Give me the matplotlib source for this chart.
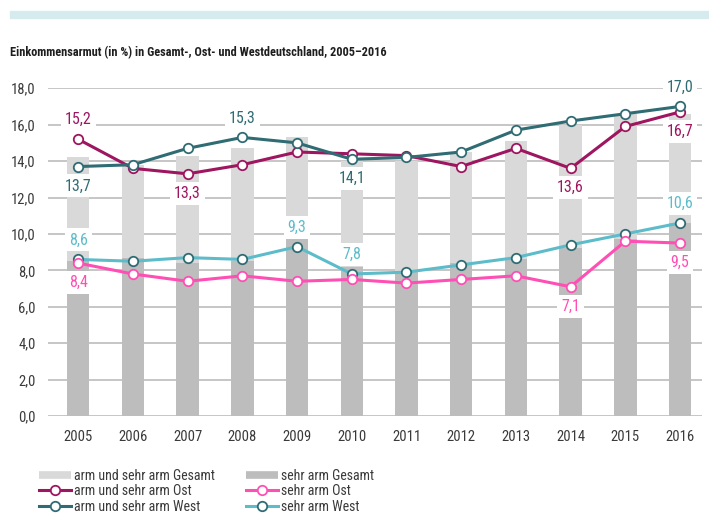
import matplotlib
matplotlib.use("Agg")
import matplotlib.pyplot as plt
from matplotlib import font_manager
from matplotlib.lines import Line2D
from matplotlib.patches import Rectangle
import numpy as np

# --- data ------------------------------------------------------------------
years = [2005, 2006, 2007, 2008, 2009, 2010, 2011, 2012, 2013, 2014, 2015, 2016]
gesamt_arm = [14.2, 13.8, 14.3, 14.7, 15.3, 14.0, 14.0, 14.5, 15.1, 16.0, 16.6, 16.6]
gesamt_sehr = [8.5, 8.7, 8.4, 8.5, 9.8, 8.2, 7.9, 8.4, 8.6, 9.2, 9.7, 10.6]
ost_arm = [15.2, 13.6, 13.3, 13.8, 14.5, 14.4, 14.3, 13.7, 14.7, 13.6, 15.9, 16.7]
west_arm = [13.7, 13.8, 14.7, 15.3, 15.0, 14.1, 14.2, 14.5, 15.7, 16.2, 16.6, 17.0]
ost_sehr = [8.4, 7.8, 7.4, 7.7, 7.4, 7.5, 7.3, 7.5, 7.7, 7.1, 9.6, 9.5]
west_sehr = [8.6, 8.5, 8.7, 8.6, 9.3, 7.8, 7.9, 8.3, 8.7, 9.4, 10.0, 10.6]

y_ticks = [0, 2, 4, 6, 8, 10, 12, 14, 16, 18]

# which points carry a value label: (series key, year index, +1 above / -1 below)
labelled = [
    ("ost_arm", 0, 1), ("ost_arm", 2, -1), ("ost_arm", 9, -1), ("ost_arm", 11, -1),
    ("west_arm", 0, -1), ("west_arm", 3, 1), ("west_arm", 5, -1), ("west_arm", 11, 1),
    ("west_sehr", 0, 1), ("west_sehr", 4, 1), ("west_sehr", 5, 1), ("west_sehr", 11, 1),
    ("ost_sehr", 0, -1), ("ost_sehr", 9, -1), ("ost_sehr", 11, -1),
]

TITLE = "Einkommensarmut (in %) in Gesamt-, Ost- und Westdeutschland, 2005\u20132016"

C_LIGHT = "#d9d9d9"
C_DARK = "#bdbdbd"
C_OST = "#9e1560"
C_WEST = "#2f6c73"
C_OST_S = "#ff4fb4"
C_WEST_S = "#5dbcca"
C_GRID = "#bcbcbc"
C_TEXT = "#3a3a3a"


def pick_font() -> list[str]:
    names = {f.name for f in font_manager.fontManager.ttflist}
    for cand in ["Liberation Sans Narrow", "Roboto Condensed", "Open Sans Condensed"]:
        if cand in names:
            return [cand, "DejaVu Sans"]
    return ["DejaVu Sans"]


plt.rcParams["font.family"] = pick_font()
plt.rcParams["font.stretch"] = "condensed"

series = {
    "ost_arm": (ost_arm, C_OST, C_OST, "arm und sehr arm Ost"),
    "west_arm": (west_arm, C_WEST, C_WEST, "arm und sehr arm West"),
    "ost_sehr": (ost_sehr, C_OST_S, C_OST_S, "sehr arm Ost"),
    "west_sehr": (west_sehr, C_WEST_S, C_WEST, "sehr arm West"),
}

LW = 2.2
MS = 6.8
MEW = 1.3

fig = plt.figure(figsize=(7.09, 5.13), dpi=100)
ax = fig.add_axes([0.068, 0.189, 0.922, 0.639])

x = np.arange(len(years))

# grid lines behind the bars
for v in y_ticks:
    ax.axhline(v, color=C_GRID, linewidth=1.2, zorder=0)

ax.bar(x, gesamt_arm, width=0.41, color=C_LIGHT, zorder=1)
ax.bar(x, gesamt_sehr, width=0.41, color=C_DARK, zorder=1.1)

for key in ["west_sehr", "ost_sehr", "ost_arm", "west_arm"]:
    vals, col, edge, _ = series[key]
    ax.plot(x, vals, color=col, linewidth=LW, zorder=4,
            marker="o", markersize=MS, markerfacecolor="white",
            markeredgecolor=edge, markeredgewidth=MEW)

for key, i, side in labelled:
    vals, col, _, _ = series[key]
    txt = f"{vals[i]:.1f}".replace(".", ",")
    ax.annotate(txt, (x[i], vals[i]), xytext=(0, 14 * side), textcoords="offset points",
                ha="center", va="center", fontsize=11.5, color=col, zorder=3,
                bbox=dict(boxstyle="square,pad=0.25", fc="white", ec="none"))

ax.set_xlim(-0.548, 11.40)
ax.set_ylim(0, 18)
ax.set_xticks(x)
ax.set_xticklabels([str(y) for y in years])
ax.set_yticks(y_ticks)
ax.set_yticklabels([f"{v:.1f}".replace(".", ",") for v in y_ticks])
ax.tick_params(axis="both", length=0, labelsize=10.5, colors=C_TEXT)
ax.tick_params(axis="x", pad=10)
ax.tick_params(axis="y", pad=9)
for s in ax.spines.values():
    s.set_visible(False)

# decorative band and title
fig.patches.append(Rectangle((10 / 709, 1 - 18 / 513), 1, 7 / 513,
                             transform=fig.transFigure, color="#d6ebee", zorder=0))
fig.text(10 / 709, 1 - 53 / 513, TITLE, fontsize=8.8, fontweight="bold",
         color="#1e1e1e", va="center", ha="left")


def line_handle(col, edge):
    return Line2D([], [], color=col, lw=LW, marker="o", ms=MS, mfc="white", mec=edge, mew=MEW)


handles = [
    Line2D([], [], color=C_LIGHT, lw=5.5, solid_capstyle="butt"),
    line_handle(C_OST, C_OST),
    line_handle(C_WEST, C_WEST),
    Line2D([], [], color=C_DARK, lw=5.5, solid_capstyle="butt"),
    line_handle(C_OST_S, C_OST_S),
    line_handle(C_WEST_S, C_WEST),
]
labels = ["arm und sehr arm Gesamt", "arm und sehr arm Ost", "arm und sehr arm West",
          "sehr arm Gesamt", "sehr arm Ost", "sehr arm West"]
fig.legend(handles, labels, ncol=2, loc="upper left", bbox_to_anchor=(32 / 709, 1 - 462 / 513),
           frameon=False, fontsize=10, handlelength=2.3, handletextpad=0.25,
           columnspacing=2.2, labelspacing=0.1, borderpad=0, labelcolor=C_TEXT)

fig.savefig("out.png", dpi=100)
